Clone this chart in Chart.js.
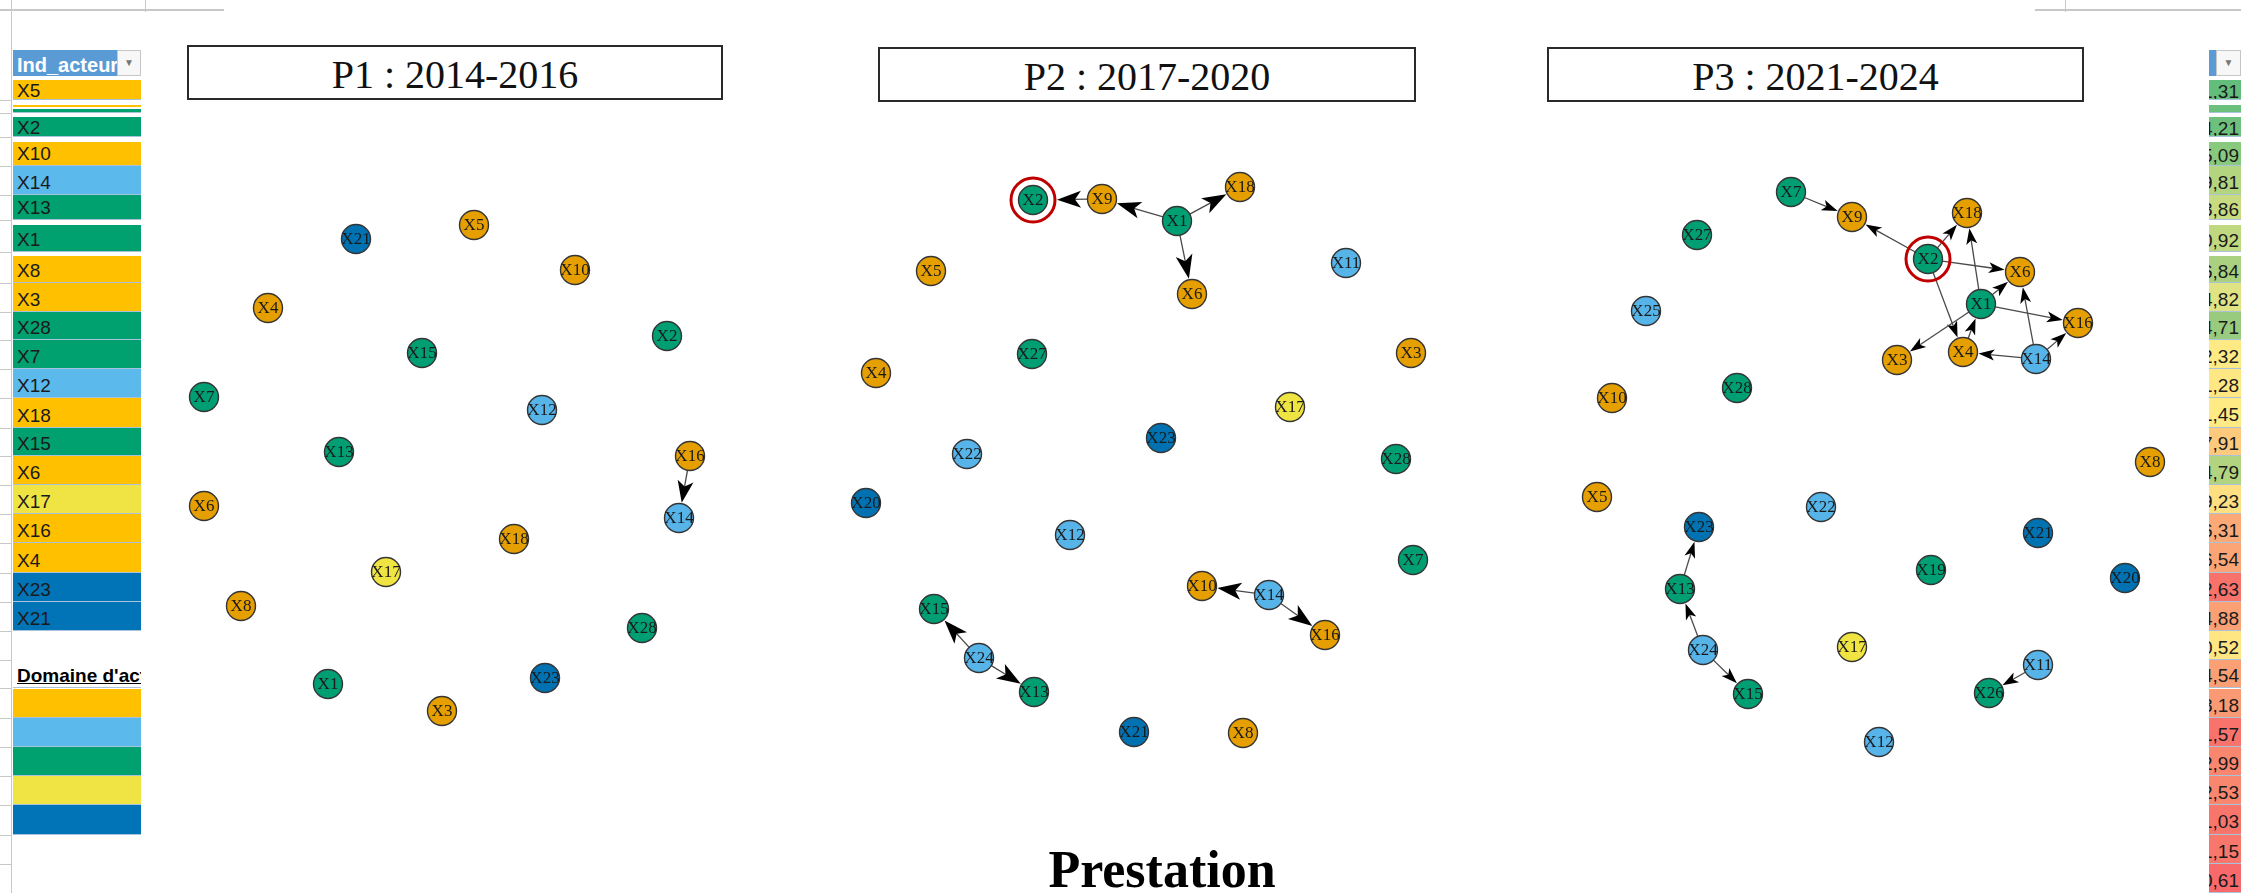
<!DOCTYPE html>
<html>
<head>
<meta charset="utf-8">
<title>Prestation</title>
<script src="https://cdn.jsdelivr.net/npm/chart.js@4.4.1/dist/chart.umd.min.js"></script>
<style>
    html, body { margin: 0; padding: 0; background: #fff; }
    body { position: relative; width: 2241px; height: 893px; overflow: hidden; font-family: 'Liberation Sans', Arial, sans-serif; }
    canvas.net { position: absolute; top: 150px; }
    .ptitle { position: absolute; height: 51px; border: 2px solid #2a2a2a; font-family: 'Liberation Serif', 'Times New Roman', serif; font-size: 40px; line-height: 55px; text-align: center; color: #111; white-space: nowrap; }
    .big { position: absolute; left: 962px; top: 840px; width: 400px; text-align: center; font-family: 'Liberation Serif', 'Times New Roman', serif; font-weight: bold; font-size: 52px; line-height: 60px; color: #000; }
    .cell { position: absolute; overflow: hidden; box-sizing: border-box; font-size: 19px; color: #1a1a1a; white-space: nowrap; }
    .gline { position: absolute; background: #c8c8c8; }
    .btn { position: absolute; box-sizing: border-box; border: 1px solid #c6c6c6; background: #f7f7f7; color: #777; font-size: 10px; text-align: center; line-height: 24px; }
</style>
</head>
<body>
<div class="ptitle" style="left:187px;top:45px;width:532px;">P1 : 2014-2016</div>
<div class="ptitle" style="left:878px;top:47px;width:534px;">P2 : 2017-2020</div>
<div class="ptitle" style="left:1547px;top:47px;width:533px;">P3 : 2021-2024</div>
<canvas id="p1" class="net" width="600" height="620" style="left:160px"></canvas>
<canvas id="p2" class="net" width="620" height="620" style="left:830px"></canvas>
<canvas id="p3" class="net" width="620" height="620" style="left:1560px"></canvas>
<div class="big">Prestation</div>
<div id="sheet"></div>
<script>
// domaines d'activité (couleurs des noeuds)
const domainColors = ['#E69F00', '#56B4E9', '#009E73', '#F0E442', '#0072B2'];
const sheetColors = ['#FFC000', '#5BB9EC', '#00A06F', '#EFE443', '#0074B6'];
const domainMembers = [
    ['X3', 'X4', 'X5', 'X6', 'X8', 'X9', 'X10', 'X16', 'X18'],
    ['X11', 'X12', 'X14', 'X22', 'X24', 'X25'],
    ['X1', 'X2', 'X7', 'X13', 'X15', 'X19', 'X26', 'X27', 'X28'],
    ['X17'],
    ['X20', 'X21', 'X23']
];

// P1 : 2014-2016
const p1Nodes = ['X21', 'X5', 'X10', 'X4', 'X2', 'X15', 'X7', 'X12', 'X13', 'X16', 'X6', 'X14', 'X18', 'X17', 'X8', 'X28', 'X1', 'X23', 'X3'];
const p1X = [19.6, 31.4, 41.5, 10.8, 50.7, 26.2, 4.4, 38.2, 17.9, 53.0, 4.4, 51.9, 35.4, 22.6, 8.1, 48.2, 16.8, 38.5, 28.2];
const p1Y = [8.9, 7.5, 12.0, 15.8, 18.6, 20.3, 24.7, 26.0, 30.2, 30.6, 35.6, 36.8, 38.9, 42.2, 45.6, 47.8, 53.4, 52.8, 56.1];
const p1Edges = [['X16', 'X14']];
const p1Ring = [];

// P2 : 2017-2020
const p2Nodes = ['X2', 'X9', 'X1', 'X18', 'X5', 'X6', 'X11', 'X27', 'X4', 'X3', 'X17', 'X23', 'X22', 'X28', 'X20', 'X12', 'X7', 'X10', 'X14', 'X15', 'X16', 'X24', 'X13', 'X21', 'X8'];
const p2X = [20.3, 27.2, 34.7, 41.0, 10.1, 36.2, 51.6, 20.2, 4.6, 58.1, 46.0, 33.1, 13.7, 56.6, 3.6, 24.0, 58.3, 37.2, 43.9, 10.4, 49.5, 14.9, 20.4, 30.4, 41.3];
const p2Y = [5.0, 4.9, 7.1, 3.7, 12.1, 14.4, 11.3, 20.4, 22.3, 20.3, 25.7, 28.8, 30.4, 30.9, 35.3, 38.5, 41.0, 43.6, 44.5, 45.9, 48.5, 50.8, 54.2, 58.2, 58.3];
const p2Edges = [['X9', 'X2'], ['X1', 'X9'], ['X1', 'X18'], ['X1', 'X6'], ['X14', 'X10'], ['X14', 'X16'], ['X24', 'X15'], ['X24', 'X13']];
const p2Ring = ['X2'];

// P3 : 2021-2024
const p3Nodes = ['X7', 'X9', 'X18', 'X27', 'X2', 'X6', 'X1', 'X25', 'X16', 'X3', 'X4', 'X14', 'X10', 'X28', 'X8', 'X5', 'X22', 'X23', 'X21', 'X19', 'X20', 'X13', 'X24', 'X17', 'X11', 'X15', 'X26', 'X12'];
const p3X = [23.1, 29.2, 40.7, 13.7, 36.8, 46.0, 42.1, 8.6, 51.8, 33.7, 40.3, 47.6, 5.2, 17.7, 59.0, 3.7, 26.1, 13.9, 47.8, 37.1, 56.5, 12.0, 14.3, 29.2, 47.8, 18.8, 42.9, 31.9];
const p3Y = [4.2, 6.7, 6.3, 8.5, 10.9, 12.2, 15.4, 16.1, 17.3, 21.0, 20.2, 20.9, 24.8, 23.8, 31.2, 34.7, 35.7, 37.7, 38.3, 42.0, 42.8, 43.9, 50.0, 49.7, 51.5, 54.4, 54.3, 59.2];
const p3Edges = [['X7', 'X9'], ['X2', 'X9'], ['X2', 'X18'], ['X2', 'X6'], ['X2', 'X4'], ['X1', 'X18'], ['X1', 'X6'], ['X1', 'X16'], ['X1', 'X3'], ['X4', 'X1'], ['X14', 'X6'], ['X14', 'X4'], ['X14', 'X16'], ['X13', 'X23'], ['X24', 'X13'], ['X24', 'X15'], ['X11', 'X26']];
const p3Ring = ['X2'];

// feuille excel à gauche / à droite
const leftLabels = ['X5', '', 'X2', 'X10', 'X14', 'X13', 'X1', 'X8', 'X3', 'X28', 'X7', 'X12', 'X18', 'X15', 'X6', 'X17', 'X16', 'X4', 'X23', 'X21', '', "Domaine d'activité", '', '', '', '', '', '', ''];
const rightValues = ['1,31', '', '4,21', '5,09', '9,81', '8,86', '0,92', '6,84', '4,82', '4,71', '2,32', '1,28', '1,45', '7,91', '4,79', '9,23', '6,31', '6,54', '2,63', '4,88', '0,52', '4,54', '8,18', '1,57', '2,99', '2,53', '1,03', '1,15', '0,61'];
const rightColors = ['#63BE7B', '#6BC07C', '#6DC17C', '#88C97E', '#B4D580', '#C8DB81', '#C0D880', '#A9D17F', '#E0E383', '#98CB7E', '#FEEA84', '#FFE884', '#FFEA84', '#FDCA7D', '#B2D480', '#FEDF81', '#FBAA77', '#FBA476', '#F8726C', '#FBA075', '#FFE683', '#FB9F75', '#FA9A74', '#F8736C', '#F9866F', '#F9876F', '#F8756C', '#F8776D', '#F8696B'];
const rowBands = [[80, 100], [105, 113], [117, 137], [142, 166], [166, 195], [195, 220], [225, 252], [256, 283], [283, 312], [312, 340], [340, 369], [369, 398], [398, 428], [428, 456], [456, 485], [485, 514], [514, 543], [543, 573], [573, 602], [602, 631], [631, 660], [660, 688], [689, 718], [718, 747], [747, 776], [776, 805], [805, 835], [835, 864], [864, 893]];

function domainOf(name) {
    return domainMembers.findIndex(m => m.includes(name));
}

function makeNetworkPlugin(edges, ring, arrowLen, arrowHalf) {
    const radius = 14.5;
    const ringRadius = 22;
    return {
        id: 'network',
        beforeDatasetsDraw(chart) {
            const ctx = chart.ctx;
            const pts = chart.getDatasetMeta(0).data;
            const names = chart.data.labels;
            ctx.save();
            edges.forEach(([from, to]) => {
                const a = pts[names.indexOf(from)];
                const b = pts[names.indexOf(to)];
                const dx = b.x - a.x, dy = b.y - a.y;
                const d = Math.hypot(dx, dy);
                const ux = dx / d, uy = dy / d;
                const gap = ring.includes(to) ? ringRadius + 2 : radius + 1;
                const tx = b.x - ux * gap, ty = b.y - uy * gap;
                const bx = tx - ux * arrowLen, by = ty - uy * arrowLen;
                ctx.strokeStyle = '#4a4a4a';
                ctx.lineWidth = 1.3;
                ctx.beginPath();
                ctx.moveTo(a.x + ux * radius, a.y + uy * radius);
                ctx.lineTo(bx + ux * arrowLen * 0.3, by + uy * arrowLen * 0.3);
                ctx.stroke();
                ctx.fillStyle = '#000';
                ctx.beginPath();
                ctx.moveTo(tx, ty);
                ctx.lineTo(bx - uy * arrowHalf, by + ux * arrowHalf);
                ctx.lineTo(bx + ux * arrowLen * 0.25, by + uy * arrowLen * 0.25);
                ctx.lineTo(bx + uy * arrowHalf, by - ux * arrowHalf);
                ctx.closePath();
                ctx.fill();
            });
            ctx.restore();
        },
        afterDatasetsDraw(chart) {
            const ctx = chart.ctx;
            const pts = chart.getDatasetMeta(0).data;
            const names = chart.data.labels;
            ctx.save();
            ctx.font = '17px "Liberation Serif", "Times New Roman", serif';
            ctx.fillStyle = '#1a1a1a';
            ctx.textAlign = 'center';
            ctx.textBaseline = 'middle';
            names.forEach((n, i) => {
                ctx.fillText(n, pts[i].x, pts[i].y + 1);
            });
            ring.forEach(n => {
                const p = pts[names.indexOf(n)];
                ctx.strokeStyle = '#C00000';
                ctx.lineWidth = 3;
                ctx.beginPath();
                ctx.arc(p.x, p.y, ringRadius, 0, Math.PI * 2);
                ctx.stroke();
            });
            ctx.restore();
        }
    };
}

function drawNetwork(canvasId, nodes, xs, ys, edges, ring, arrowLen, arrowHalf) {
    const canvas = document.getElementById(canvasId);
    return new Chart(canvas, {
        type: 'scatter',
        data: {
            labels: nodes,
            datasets: [{
                data: nodes.map((n, i) => ({ x: xs[i], y: ys[i] })),
                pointRadius: 14.5,
                pointHoverRadius: 14.5,
                pointBackgroundColor: nodes.map(n => domainColors[domainOf(n)]),
                pointBorderColor: '#353535',
                pointBorderWidth: 1.4,
                clip: false
            }]
        },
        options: {
            responsive: false,
            animation: false,
            events: [],
            layout: { padding: 0, autoPadding: false },
            scales: {
                x: { type: 'linear', min: 0, max: canvas.width / 10, display: false },
                y: { type: 'linear', min: 0, max: canvas.height / 10, reverse: true, display: false }
            },
            plugins: {
                legend: { display: false },
                tooltip: { enabled: false }
            }
        },
        plugins: [makeNetworkPlugin(edges, ring, arrowLen, arrowHalf)]
    });
}

function addDiv(cls, style, text) {
    const el = document.createElement('div');
    el.className = cls;
    el.setAttribute('style', style);
    if (text) el.textContent = text;
    document.getElementById('sheet').appendChild(el);
    return el;
}

function buildSheet() {
    // traits gris du haut
    addDiv('gline', 'left:0;top:9px;width:224px;height:2px;');
    addDiv('gline', 'left:145px;top:0;width:1px;height:12px;');
    addDiv('gline', 'left:2035px;top:9px;width:206px;height:2px;');
    addDiv('gline', 'left:2065px;top:0;width:1px;height:12px;');
    addDiv('gline', 'left:11px;top:0;width:1px;height:893px;');

    // en-têtes
    addDiv('cell', 'left:13px;top:50px;width:104px;height:26px;background:#5B9BD5;color:#fff;font-weight:bold;padding:3px 0 0 4px;font-size:20px;line-height:24px;', 'Ind_acteur');
    addDiv('btn', 'left:117px;top:50px;width:24px;height:26px;', '▼');
    addDiv('cell', 'left:2209px;top:50px;width:7px;height:26px;background:#5B9BD5;');
    addDiv('btn', 'left:2216px;top:50px;width:25px;height:26px;', '▼');

    rowBands.forEach(([top, bottom], i) => {
        const h = bottom - top;
        addDiv('gline', 'left:0;top:' + bottom + 'px;width:11px;height:1px;');

        const label = leftLabels[i];
        let bg = 'transparent';
        let extra = '';
        if (i === 1) {
            bg = 'linear-gradient(#FFC000 0 35%, #fff 35% 50%, #00A06F 50% 100%)';
        } else if (i >= 22 && i <= 26) {
            bg = sheetColors[i - 22];
        } else if (label && label.startsWith('X')) {
            bg = sheetColors[domainOf(label)];
        }
        if (i === 21) extra = 'font-weight:bold;text-decoration:underline;color:#000;';
        if (bg !== 'transparent' || label) {
            addDiv('cell', 'left:13px;top:' + top + 'px;width:128px;height:' + h + 'px;background:' + bg +
                ';border-bottom:1px solid #A9C3DC;padding:' + Math.max(0, h - 23) + 'px 0 0 4px;line-height:22px;' + extra, label);
        }

        const val = rightValues[i];
        addDiv('cell', 'left:2209px;top:' + top + 'px;width:32px;height:' + h + 'px;background:' + rightColors[i] +
            ';border-bottom:1px solid #A9C3DC;line-height:' + (h + 4) + 'px;direction:rtl;text-align:right;padding-right:2px;', val);
    });
}

buildSheet();
drawNetwork('p1', p1Nodes, p1X, p1Y, p1Edges, p1Ring, 22, 8);
drawNetwork('p2', p2Nodes, p2X, p2Y, p2Edges, p2Ring, 24, 8.5);
drawNetwork('p3', p3Nodes, p3X, p3Y, p3Edges, p3Ring, 16, 5.5);
</script>
</body>
</html>
